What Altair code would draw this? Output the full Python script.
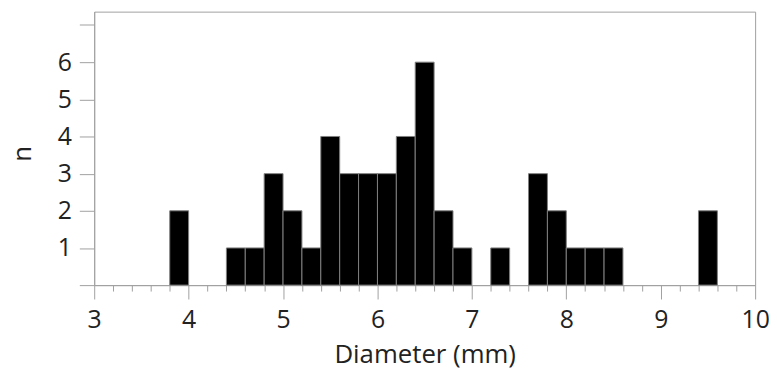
import altair as alt
import pandas as pd

bin_start = [3.8, 4.4, 4.6, 4.8, 5.0, 5.2, 5.4, 5.6, 5.8, 6.0, 6.2, 6.4, 6.6, 6.8, 7.2, 7.6, 7.8, 8.0, 8.2, 8.4, 9.4]
counts =    [2,   1,   1,   3,   2,   1,   4,   3,   3,   3,   4,   6,   2,   1,   1,   3,   2,   1,   1,   1,   2]
bin_width = 0.2
x_ticks = [round(3 + 0.2 * i, 1) for i in range(36)]
y_ticks = [0, 1, 2, 3, 4, 5, 6, 7]

df = pd.DataFrame({
    "start": bin_start,
    "end": [round(s + bin_width, 1) for s in bin_start],
    "n": counts,
})

FONT = "Open Sans"
GRAY = "#a0a0a0"
is_major = "abs(datum.value - round(datum.value)) < 0.01"

chart = alt.Chart(df).mark_rect(
    fill="black", stroke="#808080", strokeWidth=1
).encode(
    x=alt.X("start:Q",
            scale=alt.Scale(domain=[3, 10], nice=False, zero=False),
            axis=alt.Axis(
                title="Diameter (mm)", values=x_ticks,
                labelExpr=f"{is_major} ? format(datum.value, 'd') : ''",
                labelOverlap=False, labelFlush=False,
                tickSize={"condition": {"test": is_major, "value": 14}, "value": 6},
                labelPadding=9, titlePadding=9,
                domainColor=GRAY, tickColor=GRAY, grid=False,
                labelFont=FONT, labelFontSize=25, labelColor="#222",
                titleFont=FONT, titleFontSize=26, titleFontWeight="normal", titleColor="#222",
            )),
    x2="end:Q",
    y=alt.Y("n:Q",
            scale=alt.Scale(domain=[0, 7.36], nice=False),
            axis=alt.Axis(
                title="n", values=y_ticks,
                labelExpr="datum.value >= 1 && datum.value <= 6 ? datum.label : ''",
                tickSize=15, labelPadding=8,
                titleX=-72, titleY=143, titleAngle=270,
                titleAlign="center", titleBaseline="middle",
                domainColor=GRAY, tickColor=GRAY, grid=False,
                labelFont=FONT, labelFontSize=25, labelColor="#222",
                titleFont=FONT, titleFontSize=26, titleFontWeight="normal", titleColor="#222",
            )),
    y2=alt.datum(0),
).properties(
    width=667, height=276,
    autosize=alt.AutoSizeParams(type="none"),
    padding={"left": 87, "top": 2, "right": 14, "bottom": 84},
).configure_view(
    stroke=GRAY, strokeWidth=1
)

chart.save("out.html", embed_options={"renderer": "svg", "actions": False})
